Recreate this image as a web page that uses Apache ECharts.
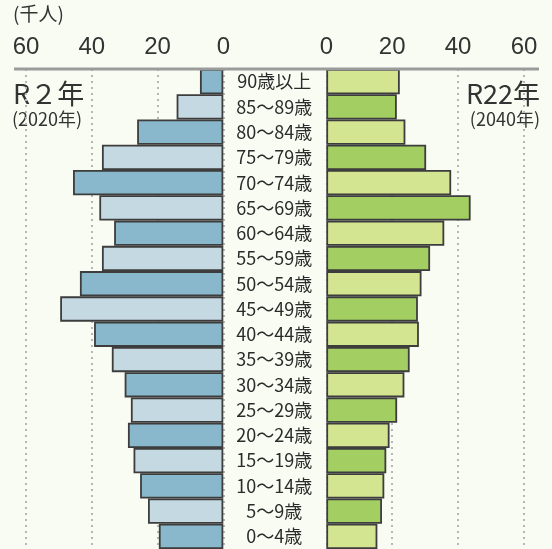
<!DOCTYPE html>
<html>
<head>
<meta charset="utf-8">
<script src="https://cdn.jsdelivr.net/npm/echarts@6/dist/echarts.min.js"></script>
<style>
  html, body { margin: 0; padding: 0; background: #f9fcf3; }
  #chart { width: 552px; height: 549px; }
</style>
</head>
<body>
<div id="chart"></div>
<script>
// 年齢階級（下から上へ）
const ageGroups = ['0～4歳', '5～9歳', '10～14歳', '15～19歳', '20～24歳', '25～29歳',
  '30～34歳', '35～39歳', '40～44歳', '45～49歳', '50～54歳', '55～59歳', '60～64歳',
  '65～69歳', '70～74歳', '75～79歳', '80～84歳', '85～89歳', '90歳以上'];

// R2年（2020年） 単位：千人
const popR2 = [19.6, 22.9, 25.3, 27.3, 29.0, 28.1, 30.0, 33.9, 39.3, 49.6,
  43.6, 36.9, 33.2, 37.7, 45.7, 36.9, 26.2, 14.2, 7.1];

// R22年（2040年） 単位：千人
const popR22 = [15.5, 16.9, 17.6, 18.2, 19.2, 21.5, 23.7, 25.3, 28.1, 27.8,
  28.9, 31.5, 35.8, 43.8, 37.9, 30.3, 24.0, 21.4, 22.3];

const axisTicks = [0, 20, 40, 60];

const numFont = '"Liberation Sans", Arial, sans-serif';
const jpFont = '"Noto Sans CJK JP", sans-serif';

const chart = echarts.init(document.getElementById('chart'));

const rowH = 25.58;
const gridTop = 69;
const gridH = rowH * ageGroups.length;

const xAxisCommon = {
  type: 'value',
  position: 'top',
  min: axisTicks[0],
  max: axisTicks[axisTicks.length - 1],
  interval: 20,
  axisLine: {show: false},
  axisTick: {show: false},
  axisLabel: {
    color: '#333',
    fontFamily: numFont,
    fontSize: 24,
    margin: 10
  },
  splitLine: {
    show: true,
    lineStyle: {type: [2, 4], color: '#b5b8b8', width: 2}
  }
};

const option = {
  backgroundColor: '#f9fcf3',
  animation: false,
  grid: [
    {left: 26, width: 197.3, top: gridTop, height: gridH},
    {left: 326.3, width: 197.7, top: gridTop, height: gridH}
  ],
  xAxis: [
    Object.assign({}, xAxisCommon, {gridIndex: 0, inverse: true}),
    Object.assign({}, xAxisCommon, {gridIndex: 1})
  ],
  yAxis: [
    {
      type: 'category',
      gridIndex: 0,
      position: 'right',
      data: ageGroups,
      axisLine: {show: false},
      axisTick: {show: false},
      axisLabel: {
        align: 'center',
        margin: 51,
        color: '#2b2b2b',
        fontFamily: jpFont,
        fontSize: 18
      }
    },
    {
      type: 'category',
      gridIndex: 1,
      data: ageGroups,
      axisLine: {show: false},
      axisTick: {show: false},
      axisLabel: {show: false}
    }
  ],
  series: [
    {
      name: 'R2年',
      type: 'bar',
      xAxisIndex: 0,
      yAxisIndex: 0,
      data: popR2,
      barWidth: '100%',
      itemStyle: {
        color: p => (p.dataIndex % 2 === 0 ? '#89b7cb' : '#c5d9e3'),
        borderColor: '#3d3d3d',
        borderWidth: 1.8
      }
    },
    {
      name: 'R22年',
      type: 'bar',
      xAxisIndex: 1,
      yAxisIndex: 1,
      data: popR22,
      barWidth: '100%',
      itemStyle: {
        color: p => (p.dataIndex % 2 === 0 ? '#d4e591' : '#a3cf62'),
        borderColor: '#3d3d3d',
        borderWidth: 1.8
      }
    }
  ],
  graphic: [
    {
      type: 'line',
      shape: {x1: 14, y1: 69, x2: 539, y2: 69},
      style: {stroke: '#9a9c9c', lineWidth: 3},
      z: 100
    },
    {
      type: 'text', left: 13, top: 4,
      style: {text: '(千人)', font: '19px ' + jpFont, fill: '#333'}
    },
    {
      type: 'text', left: 13, top: 80,
      style: {text: 'R２年', font: '27px ' + jpFont, fill: '#333'}
    },
    {
      type: 'text', left: 12, top: 110,
      style: {text: '(2020年)', font: '18px ' + jpFont, fill: '#333'}
    },
    {
      type: 'text', right: 12, top: 80,
      style: {text: 'R22年', font: '27px ' + jpFont, fill: '#333'}
    },
    {
      type: 'text', right: 12, top: 110,
      style: {text: '(2040年)', font: '18px ' + jpFont, fill: '#333'}
    }
  ]
};

chart.setOption(option);
</script>
</body>
</html>
